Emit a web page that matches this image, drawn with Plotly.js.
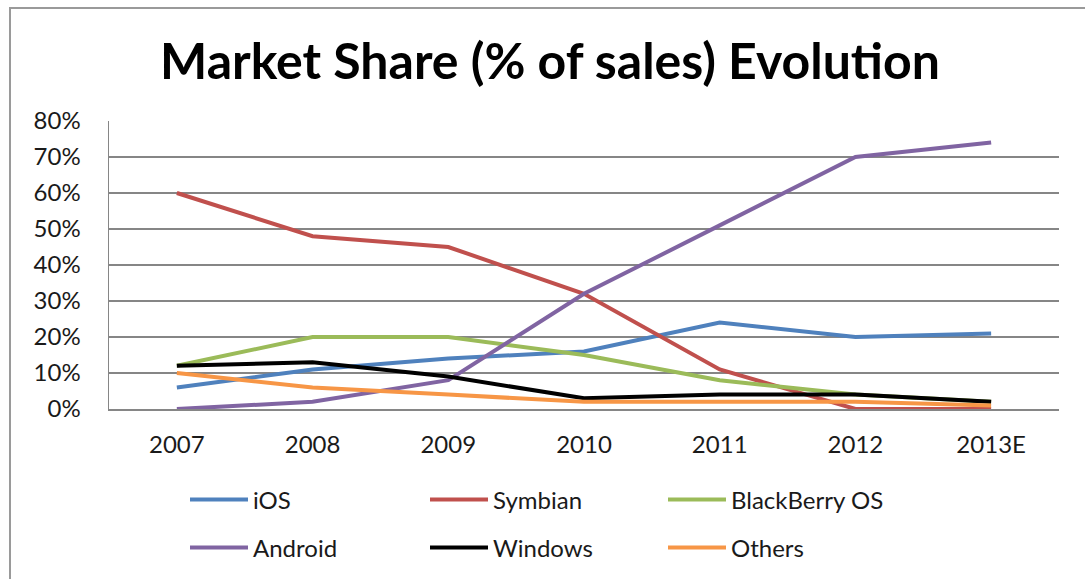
<!DOCTYPE html>
<html>
<head>
<meta charset="utf-8">
<script src="https://cdn.plot.ly/plotly-3.0.1.min.js"></script>
<style>
  html, body { margin: 0; padding: 0; background: #ffffff; }
  #wrap { position: relative; width: 1085px; height: 579px; overflow: hidden; }
  #chart { position: absolute; left: 0; top: 0; width: 1085px; height: 579px; }
  #frame { position: absolute; left: 9px; top: 7px; width: 1100px; height: 600px;
           border-left: 2px solid #9a9a9a; border-top: 2px solid #9a9a9a; pointer-events: none; }
</style>
</head>
<body>
<div id="wrap">
  <div id="chart"></div>
  <div id="frame"></div>
</div>
<script>
// Data
const years = ['2007', '2008', '2009', '2010', '2011', '2012', '2013E'];
const iOS = [6, 11, 14, 16, 24, 20, 21];
const symbian = [60, 48, 45, 32, 11, 0, 0];
const blackberry = [12, 20, 20, 15, 8, 4, 2];
const android = [0, 2, 8, 32, 51, 70, 74];
const windows = [12, 13, 9, 3, 4, 4, 2];
const others = [10, 6, 4, 2, 2, 2, 1];
const seriesNames = ['iOS', 'Symbian', 'BlackBerry OS', 'Android', 'Windows', 'Others'];
const seriesColors = ['#4F81BD', '#C0504D', '#9BBB59', '#8064A2', '#000000', '#F79646'];

const seriesData = [iOS, symbian, blackberry, android, windows, others];
const legendIds = ['legend', 'legend2', 'legend3', 'legend4', 'legend5', 'legend6'];

const traces = seriesData.map((vals, i) => ({
  type: 'scatter',
  mode: 'lines',
  x: years,
  y: vals,
  name: seriesNames[i],
  line: { color: seriesColors[i], width: 4 },
  legend: legendIds[i],
  hoverinfo: 'x+y+name'
}));

const W = 1085, H = 579;
const FONT = 'Lato, "Open Sans", sans-serif';
// legend positions (px) : columns and rows
const legendCols = [185, 425, 663];
const legendRows = [500, 548];
function legendAt(col, row) {
  return {
    xref: 'container', yref: 'container',
    x: legendCols[col] / W, y: 1 - legendRows[row] / H,
    xanchor: 'left', yanchor: 'middle',
    orientation: 'v',
    bgcolor: 'rgba(0,0,0,0)',
    font: { family: FONT, size: 24, color: '#1a1a1a' },
    itemwidth: 58
  };
}

const layout = {
  width: W, height: H,
  paper_bgcolor: 'rgba(0,0,0,0)',
  plot_bgcolor: '#ffffff',
  margin: { l: 109, r: 26, t: 121, b: 170, autoexpand: false },
  title: {
    text: '<b>Market Share (% of sales) Evolution</b>',
    font: { family: FONT, size: 50, color: '#000000' },
    xref: 'container', yref: 'container',
    x: 550 / W, xanchor: 'center',
    y: 1 - 61 / H, yanchor: 'middle'
  },
  xaxis: {
    type: 'category',
    range: [-0.5, 6.5],
    showgrid: false,
    showline: true, linecolor: '#868686', linewidth: 1.5,
    ticks: '',
    tickangle: 0,
    ticklabelstandoff: 14,
    tickfont: { family: FONT, size: 24, color: '#1a1a1a' },
    zeroline: false,
    automargin: false,
    fixedrange: true
  },
  yaxis: {
    range: [0, 80],
    dtick: 10,
    ticksuffix: '%',
    showgrid: true, gridcolor: '#868686', gridwidth: 1.2,
    showline: true, linecolor: '#868686', linewidth: 1.5,
    ticks: '',
    ticklabelstandoff: 22,
    tickfont: { family: FONT, size: 24, color: '#1a1a1a' },
    zeroline: false,
    automargin: false,
    fixedrange: true
  },
  showlegend: true,
  legend: legendAt(0, 0),
  legend2: legendAt(1, 0),
  legend3: legendAt(2, 0),
  legend4: legendAt(0, 1),
  legend5: legendAt(1, 1),
  legend6: legendAt(2, 1)
};

Plotly.newPlot('chart', traces, layout, { displayModeBar: false, staticPlot: true });
</script>
</body>
</html>
